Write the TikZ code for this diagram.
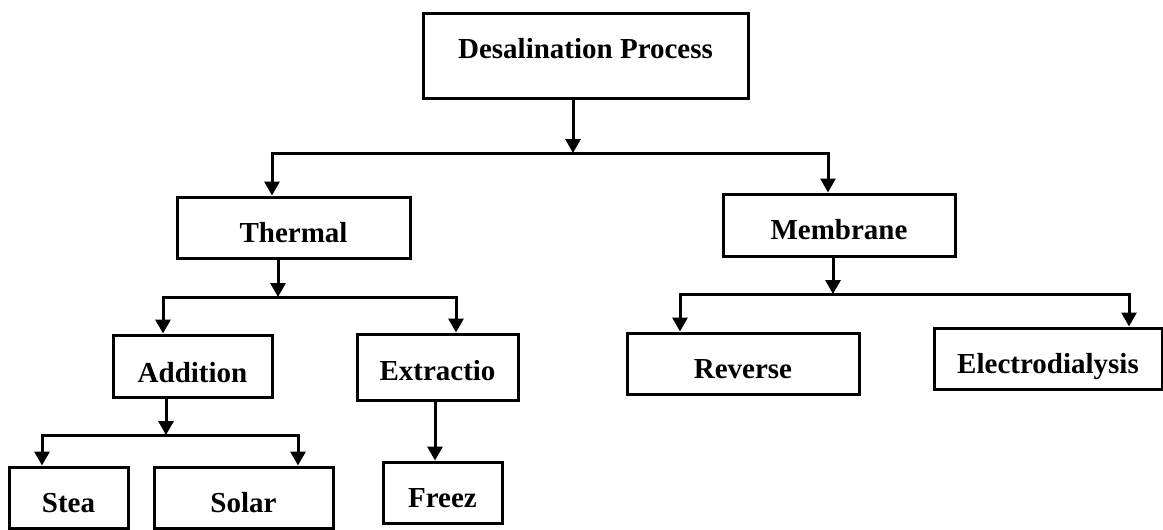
\documentclass[tikz,border=0pt]{standalone}
\usepackage{fontspec}
\setmainfont{Liberation Serif}
\usetikzlibrary{arrows.meta}
\begin{document}
\begin{tikzpicture}[x=1pt,y=-1pt,
  box/.style={draw,line width=3pt,rectangle,inner sep=0pt,text height=30pt,text depth=0pt,
    font=\fontsize{29}{34}\selectfont\bfseries},
  arr/.style={line width=3pt,-{Triangle[width=15pt,length=14pt]}}]
\useasboundingbox (0,0) rectangle (1163,530);
\node[box,minimum width=325pt,minimum height=85pt,text height=5pt] (top) at (585.5,55.5) {Desalination Process};
\node[box,minimum width=233pt,minimum height=61pt] (thermal) at (293.5,227.5) {Thermal};
\node[box,minimum width=232pt,minimum height=62pt,text height=29pt] (membrane) at (839,225) {Membrane};
\node[box,minimum width=159pt,minimum height=62pt,text height=32pt] (addition) at (192.5,366) {Addition};
\node[box,minimum width=161pt,minimum height=66pt,text height=27pt] (extractio) at (437.5,367) {Extractio};
\node[box,minimum width=119pt,minimum height=61pt] (stea) at (68.5,497.5) {Stea};
\node[box,minimum width=179pt,minimum height=61pt] (solar) at (243.5,497.5) {Solar};
\node[box,minimum width=119pt,minimum height=61pt] (freez) at (442.5,492.5) {Freez};
\node[box,minimum width=232pt,minimum height=61pt] (reverse) at (743,363.5) {Reverse};
\node[box,minimum width=228pt,minimum height=61pt] (electro) at (1048,358.5) {Electrodialysis};
% level 1
\coordinate (b1) at (573,153);
\draw[arr] (top.south -| b1) -- (b1);
\draw[arr] (b1) -| ([xshift=-21.5pt]thermal.north);
\draw[arr] (b1) -| ([xshift=-11pt]membrane.north);
% thermal
\coordinate (b2) at (278,297);
\draw[arr] (thermal.south -| b2) -- (b2);
\draw[arr] (b2) -| ([xshift=-29.5pt]addition.north);
\draw[arr] (b2) -| ([xshift=18.5pt]extractio.north);
% addition
\coordinate (b3) at (166,435);
\draw[arr] (addition.south -| b3) -- (b3);
\draw[arr] (b3) -| ([xshift=-26.5pt]stea.north);
\draw[arr] (b3) -| ([xshift=54.5pt]solar.north);
% extractio
\draw[arr] (extractio.south -| 435,0) -- (freez.north -| 435,0);
% membrane
\coordinate (b4) at (833,294);
\draw[arr] (membrane.south -| b4) -- (b4);
\draw[arr] (b4) -| ([xshift=-63pt]reverse.north);
\draw[arr] (b4) -| ([xshift=81pt]electro.north);
\end{tikzpicture}
\end{document}
